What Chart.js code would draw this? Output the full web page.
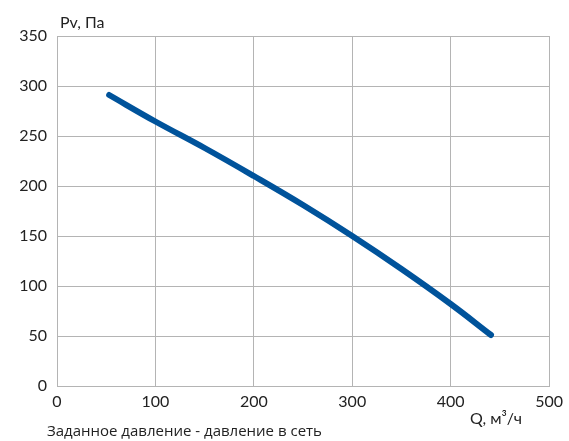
<!DOCTYPE html>
<html>
<head>
<meta charset="utf-8">
<script src="https://cdn.jsdelivr.net/npm/chart.js@4"></script>
<style>
  html, body { margin: 0; padding: 0; background: #fff; }
  #wrap { width: 569px; height: 441px; }
</style>
</head>
<body>
<div id="wrap"><canvas id="myChart" width="569" height="441"></canvas></div>
<script>
// flow Q, m3/h and pressure Pv, Pa
const flow = [53, 100, 150, 200, 250, 300, 350, 400, 441];
const pressure = [291, 264.5, 238, 210, 181, 150, 117, 82, 51];
const yTitle = 'Pv, Па';
const xTitle = 'Q, м³/ч';
const footer = 'Заданное давление - давление в сеть';

const points = [];
for (let i = 0; i < flow.length; i++) {
	points.push({ x: flow[i], y: pressure[i] });
}

// extra labels that sit outside the usual title spots
const textPlugin = {
	id: 'extraText',
	afterDraw(chart) {
		const ctx = chart.ctx;
		const area = chart.chartArea;
		ctx.save();
		ctx.fillStyle = '#222';
		ctx.textBaseline = 'alphabetic';
		ctx.textAlign = 'left';
		ctx.font = '16px Lato, "Noto Sans", sans-serif';
		ctx.fillText(yTitle, area.left + 3, area.top - 8);
		ctx.fillText(xTitle, area.right - 79, area.bottom + 38);
		ctx.font = '15px "Open Sans", "Noto Sans", sans-serif';
		ctx.fillText(footer, 47, 436);
		ctx.restore();
	}
};

const ctx = document.getElementById('myChart').getContext('2d');
const myChart = new Chart(ctx, {
	type: 'line',
	data: {
		datasets: [{
			data: points,
			borderColor: '#00539b',
			borderWidth: 6,
			borderCapStyle: 'round',
			fill: false,
			pointRadius: 0,
			tension: 0.4
		}]
	},
	options: {
		responsive: false,
		animation: false,
		layout: { padding: { top: 36, right: 17, left: 0, bottom: 0 } },
		plugins: { legend: { display: false }, tooltip: { enabled: false } },
		scales: {
			x: {
				type: 'linear',
				min: 0,
				max: 500,
				ticks: { stepSize: 100, color: '#222', padding: 6, font: { size: 16, family: 'Lato, "Noto Sans", sans-serif' }, maxRotation: 0 },
				grid: { color: '#b4b4b4', lineWidth: 1, drawTicks: false },
				border: { color: '#b4b4b4' },
				afterFit: s => { s.height = 55; }
			},
			y: {
				min: 0,
				max: 350,
				ticks: { stepSize: 50, color: '#222', padding: 10, font: { size: 16, family: 'Lato, "Noto Sans", sans-serif' } },
				grid: { color: '#b4b4b4', lineWidth: 1, drawTicks: false },
				border: { color: '#b4b4b4' },
				afterFit: s => { s.width = 57; }
			}
		}
	},
	plugins: [textPlugin]
});
</script>
</body>
</html>
